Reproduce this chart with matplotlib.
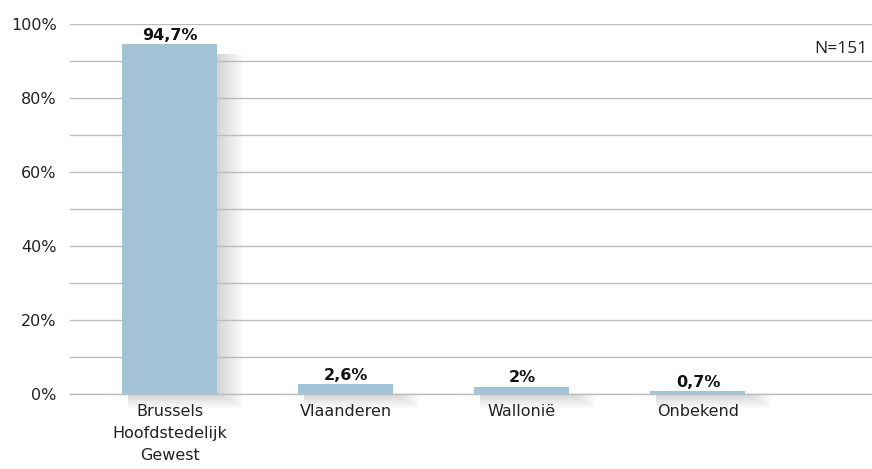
import matplotlib
matplotlib.use("Agg")
import matplotlib.pyplot as plt
from matplotlib.patches import Rectangle
import numpy as np

categories = ["Brussels\nHoofdstedelijk\nGewest", "Vlaanderen", "Wallonië", "Onbekend"]
values = [94.7, 2.6, 2.0, 0.7]
value_labels = ["94,7%", "2,6%", "2%", "0,7%"]
yticks = [0, 20, 40, 60, 80, 100]
ytick_labels = ["0%", "20%", "40%", "60%", "80%", "100%"]
note = "N=151"

plt.rcParams['font.family'] = ['DejaVu Sans']

fig = plt.figure(figsize=(8.72, 4.69), dpi=100)
ax = fig.add_axes([70/872, 1 - 394/469, 802/872, 370/469])

xlim = (-0.568, 3.989)
ylim = (0, 100)
ax.set_xlim(*xlim)
ax.set_ylim(*ylim)
px_x = (xlim[1] - xlim[0]) / 802.0
px_y = (ylim[1] - ylim[0]) / 370.0

x = np.arange(len(categories))
width = 0.54
bars = ax.bar(x, values, width=width, color="#a3c3d7", zorder=3)

# soft shadow to the right of and below each bar
for b in bars:
    x0, y0 = b.get_x(), b.get_y()
    w, h = b.get_width(), b.get_height()
    for k in range(1, 22):
        r = Rectangle((x0 + 6 * px_x, y0 - k * px_y * 0.7),
                      w - 6 * px_x + k * 1.3 * px_x,
                      max(h - 10 * px_y, 0) + k * px_y * 0.7,
                      facecolor="black", edgecolor="none", alpha=0.0085,
                      zorder=1, clip_on=False)
        ax.add_patch(r)

for xi, v, lab in zip(x, values, value_labels):
    ax.text(xi, v + 0.3, lab, ha="center", va="bottom", fontsize=11.5,
            fontweight="bold", color="#111111", zorder=4)

ax.set_yticks(yticks)
ax.set_yticklabels(ytick_labels, fontsize=11.5, color="#222222")
ax.set_yticks(np.arange(0, 101, 10), minor=True)
ax.yaxis.grid(True, which="both", color="#bdbdbd", linewidth=1.0, zorder=2)
ax.set_axisbelow(False)
ax.axhline(0, color="#bdbdbd", linewidth=1.0, zorder=2.5, clip_on=False)
ax.set_xticks(x)
ax.set_xticklabels(categories, fontsize=11.5, color="#222222", linespacing=1.6)
ax.tick_params(axis="both", which="both", length=0)
ax.tick_params(axis="y", pad=9.5)
ax.tick_params(axis="x", pad=7)
for s in ax.spines.values():
    s.set_visible(False)

ax.text(0.995, 93.2, note, transform=ax.get_yaxis_transform(), ha="right",
        va="center", fontsize=12.5, color="#222222", family=["Open Sans", "DejaVu Sans"])

fig.savefig("out.png", dpi=100)
